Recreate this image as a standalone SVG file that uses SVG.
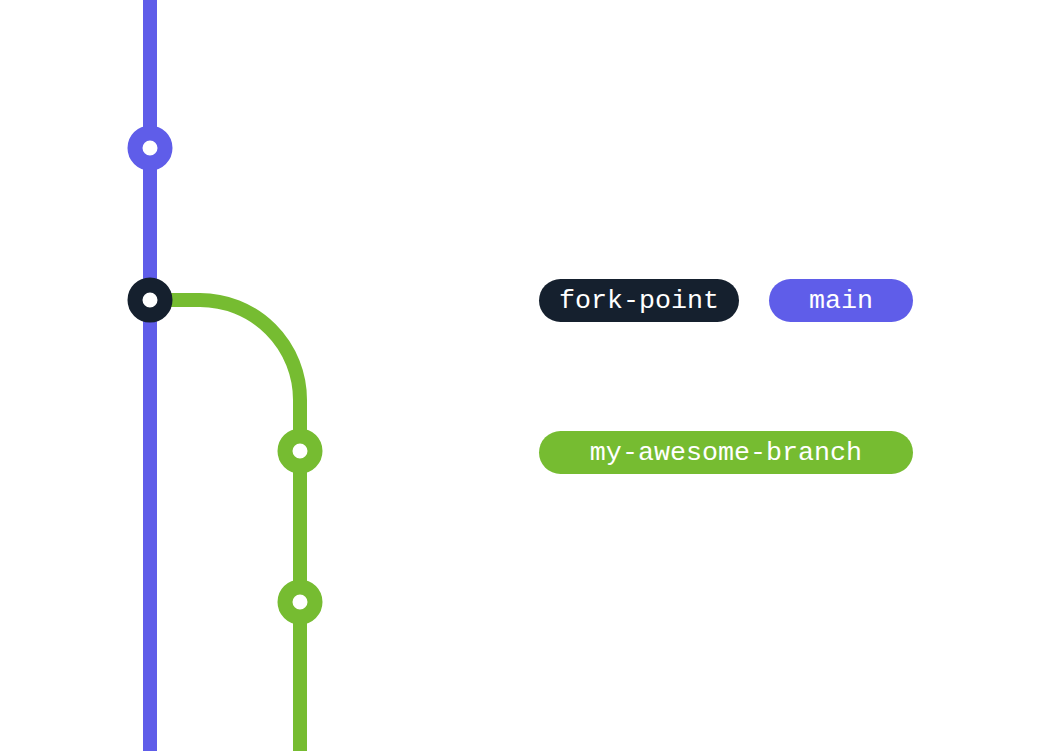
<svg xmlns="http://www.w3.org/2000/svg" width="1050" height="751" viewBox="0 0 1050 751">
<style>
.main{stroke:#5F5DE9;stroke-width:14;fill:none}
.br{stroke:#76BC31;stroke-width:14;fill:none}
.cm{fill:#fff;stroke-width:15}
.lbl{font-family:"Liberation Mono","DejaVu Sans Mono",monospace;font-size:26.7px;fill:#fff;text-anchor:middle;dominant-baseline:central}
</style>
<rect width="1050" height="751" fill="#fff"/>
<g id="connectors">
<line class="main" x1="150" y1="0" x2="150" y2="751"/>
<path class="br" d="M150 300 H200 A100 100 0 0 1 300 400 V751"/>
</g>
<g id="commit-main-1"><circle class="cm" cx="150" cy="148" r="15" stroke="#5F5DE9"/></g>
<g id="commit-fork"><circle class="cm" cx="150" cy="300" r="15" stroke="#15202E"/></g>
<g id="commit-branch-1"><circle class="cm" cx="300" cy="451" r="15" stroke="#76BC31"/></g>
<g id="commit-branch-2"><circle class="cm" cx="300" cy="602" r="15" stroke="#76BC31"/></g>
<g id="label-fork-point"><rect x="539" y="279" width="200" height="43" rx="21.5" fill="#15202E"/><text class="lbl" x="639" y="300.5">fork-point</text></g>
<g id="label-main"><rect x="769" y="279" width="144" height="43" rx="21.5" fill="#5F5DE9"/><text class="lbl" x="841" y="300.5">main</text></g>
<g id="label-branch"><rect x="539" y="431" width="374" height="43" rx="21.5" fill="#76BC31"/><text class="lbl" x="726" y="452.5">my-awesome-branch</text></g>
</svg>
